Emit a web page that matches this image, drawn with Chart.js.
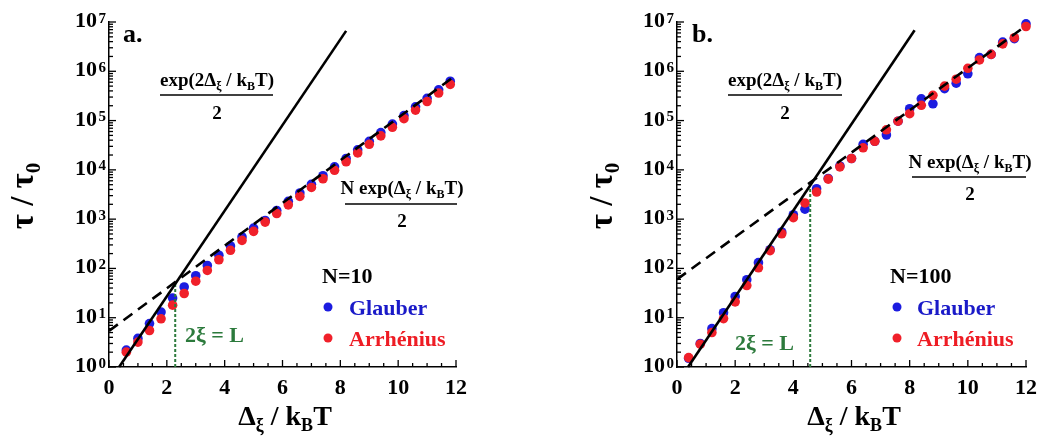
<!DOCTYPE html>
<html><head><meta charset="utf-8">
<script src="https://cdn.jsdelivr.net/npm/chart.js@4.4.1/dist/chart.umd.min.js"></script>
<style>
html,body{margin:0;padding:0;background:#fff;}
#wrap{position:relative;width:1039px;height:443px;overflow:hidden;background:#fff}
canvas{position:absolute;top:0}
</style></head>
<body>
<div id="wrap">
<canvas id="ca" width="520" height="443" style="left:0"></canvas>
<canvas id="cb" width="519" height="443" style="left:520px"></canvas>
</div>
<script>
// ---------- data ----------
const xA = [0.6,1.0,1.4,1.8,2.2,2.6,3.0,3.4,3.8,4.2,4.6,5.0,5.4,5.8,6.2,6.6,7.0,7.4,7.8,8.2,8.6,9.0,9.4,9.8,10.2,10.6,11.0,11.4,11.8];
const glauberA = [2.2,3.8,7.6,13,25,42,71,115,185,285,435,660,940,1500,2300,3400,5100,7600,11500,17000,25500,38000,57000,85000,126000,190000,282000,420000,630000];
const arrheniusA = [2.0,3.2,5.5,9.5,18,31,55,91,150,233,370,565,870,1300,1950,2900,4400,6600,9800,14600,22000,33000,49000,73000,109000,163000,243000,362000,540000];

const xB = [0.4,0.8,1.2,1.6,2.0,2.4,2.8,3.2,3.6,4.0,4.4,4.8,5.2,5.6,6.0,6.4,6.8,7.2,7.6,8.0,8.4,8.8,9.2,9.6,10.0,10.4,10.8,11.2,11.6,12.0];
const glauberB = [1.5,3.0,6.0,12.6,27,59,131,240,550,1230,1590,4150,6700,12000,17000,33000,38000,51000,97000,174000,276000,219000,445000,575000,890000,1.9e6,2.2e6,3.9e6,4.6e6,9.2e6];
const arrheniusB = [1.55,2.9,5.0,9.6,21,45,103,230,505,1070,2130,3550,6500,11500,17000,28000,38000,65000,97000,138000,204000,325000,500000,690000,1.15e6,1.7e6,2.2e6,3.6e6,4.8e6,8.1e6];

// theory lines (end points)
const solidAx = [0.35, 8.2],  solidAy = [1, 6.6e6];
const dashAx  = [0, 11.85],   dashAy  = [5.4, 7.2e5];
const solidBx = [0.38, 8.17], solidBy = [1, 6.8e6];
const dashBx  = [0, 11.9],    dashBy  = [60, 7.6e6];
// 2xi = L markers
const lenAx = [2.29, 2.29], lenAy = [1, 50];
const lenBx = [4.58, 4.58], lenBy = [1, 4500];

// ticks
const xTickValues = [0,2,4,6,8,10,12];
const xTickLabels = ['0','2','4','6','8','10','12'];
const yTickExps = [0,1,2,3,4,5,6,7];

// ---------- helpers ----------
const FONT = '"Liberation Serif","Times New Roman",serif';
const fnt = s => 'bold ' + s + 'px ' + FONT;
const BLUE = '#1c1ce0', RED = '#f0202a', GREEN = '#2c7a3c';

function pts(xs, ys){ return xs.map((x,i)=>({x:x, y:ys[i]})); }

function rich(ctx, parts, x, y, align){
  let w = 0;
  parts.forEach(p => { ctx.font = fnt(p[1]); p.w = ctx.measureText(p[0]).width; w += p.w; });
  let cx = align === 'center' ? x - w/2 : (align === 'right' ? x - w : x);
  ctx.textAlign = 'left'; ctx.textBaseline = 'alphabetic';
  parts.forEach(p => { ctx.font = fnt(p[1]); ctx.fillText(p[0], cx, y + (p[2]||0)); cx += p.w; });
  return w;
}

const annotPlugin = {
  id: 'annot',
  afterDraw(chart, args, o){
    const ctx = chart.ctx, xs = chart.scales.x, ys = chart.scales.y, ca = chart.chartArea;
    ctx.save();
    // inward ticks
    ctx.strokeStyle = '#000'; ctx.lineWidth = 1.3;
    for (let k = 0; k <= 24; k++){
      const v = k * 0.5, px = xs.getPixelForValue(v);
      const len = (k % 4 === 0) ? 7 : 4;
      ctx.beginPath(); ctx.moveTo(px, ca.bottom); ctx.lineTo(px, ca.bottom - len); ctx.stroke();
    }
    for (let n = 0; n <= 7; n++){
      for (let m = 1; m <= 9; m++){
        if (n === 7 && m > 1) break;
        const py = ys.getPixelForValue(m * Math.pow(10, n));
        const len = (m === 1) ? 7 : 4;
        ctx.beginPath(); ctx.moveTo(ca.left, py); ctx.lineTo(ca.left + len, py); ctx.stroke();
      }
    }
    // tick labels
    ctx.fillStyle = '#000';
    ctx.font = fnt(22); ctx.textAlign = 'center'; ctx.textBaseline = 'alphabetic';
    xTickLabels.forEach((lab, i) => ctx.fillText(lab, xs.getPixelForValue(xTickValues[i]), ca.bottom + 27));
    yTickExps.forEach(e => {
      const py = ys.getPixelForValue(Math.pow(10, e));
      ctx.textAlign = 'right';
      ctx.font = fnt(15);
      const ew = ctx.measureText(String(e)).width;
      ctx.fillText(String(e), ca.left - 3, py + 0.5);
      ctx.font = fnt(22);
      ctx.fillText('10', ca.left - 4.5 - ew, py + 5);
    });
    // axis titles
    rich(ctx, [['Δ',28],['ξ',18,6],[' / k',28],['B',18,6],['T',28]], o.xTitleX, 425, 'center');
    ctx.save();
    ctx.translate(o.yTitleX, 196);
    ctx.rotate(-Math.PI/2);
    rich(ctx, [['τ / τ',33],['0',21,7]], 0, 0, 'center');
    ctx.restore();
    // panel letter
    ctx.fillStyle = '#000';
    rich(ctx, [[o.letter, 26]], o.letterX, 42, 'left');
    // fraction 1
    rich(ctx, [['exp(2Δ',19],['ξ',12,4],[' / k',19],['B',12,4],['T)',19]], o.expCx, 86, 'center');
    ctx.lineWidth = 1.6;
    ctx.beginPath(); ctx.moveTo(o.expBarX[0], 95); ctx.lineTo(o.expBarX[1], 95); ctx.stroke();
    rich(ctx, [['2',19]], o.expCx, 119, 'center');
    // fraction 2
    rich(ctx, [['N exp(Δ',19],['ξ',12,4],[' / k',19],['B',12,4],['T)',19]], o.nexpCx, o.nexpY + 6, 'center');
    ctx.beginPath(); ctx.moveTo(o.nexpBarX[0], o.nexpBar); ctx.lineTo(o.nexpBarX[1], o.nexpBar); ctx.stroke();
    rich(ctx, [['2',19]], o.nexpCx, o.nexp2Y + 7, 'center');
    // legend block
    rich(ctx, [[o.nLabel, 22]], o.nX, 283, 'left');
    ctx.fillStyle = BLUE;
    ctx.beginPath(); ctx.arc(o.legDotX, 307, 4.5, 0, Math.PI*2); ctx.fill();
    ctx.fillStyle = '#1a1ac8';
    rich(ctx, [['Glauber', 22]], o.legTextX, 315, 'left');
    ctx.fillStyle = RED;
    ctx.beginPath(); ctx.arc(o.legDotX, 338, 4.5, 0, Math.PI*2); ctx.fill();
    ctx.fillStyle = '#ee1c24';
    rich(ctx, [['Arrhénius', 22]], o.legTextX, 346, 'left');
    // 2xi = L
    ctx.fillStyle = GREEN;
    rich(ctx, [['2ξ = L', 22]], o.lenX, o.lenY + 7, 'left');
    ctx.restore();
  }
};

function makeChart(id, cfg){
  const datasets = [
    {data: pts(cfg.sx, cfg.sy), showLine: true, borderColor: '#000', borderWidth: 2.6, pointRadius: 0, clip: false},
    {data: pts(cfg.dx, cfg.dy), showLine: true, borderColor: '#000', borderWidth: 2.6, borderDash: [11,7], pointRadius: 0, clip: false},
    {data: pts(cfg.lx, cfg.ly), showLine: true, borderColor: GREEN, borderWidth: 2, borderDash: [3,2], pointRadius: 0, clip: false},
    {data: pts(cfg.x, cfg.red), showLine: false, pointRadius: 4.8, pointBackgroundColor: RED, pointBorderWidth: 0, backgroundColor: RED, borderColor: RED, clip: false},
    {data: pts(cfg.x, cfg.blue), showLine: false, pointRadius: 4.8, pointBackgroundColor: BLUE, pointBorderWidth: 0, backgroundColor: BLUE, borderColor: BLUE, clip: false}
  ];
  return new Chart(document.getElementById(id), {
    type: 'scatter',
    data: {datasets},
    plugins: [annotPlugin],
    options: {
      responsive: false, animation: false, events: [],
      layout: {padding: {left: 0, top: 22, right: cfg.padRight, bottom: 0}},
      plugins: {legend: {display: false}, tooltip: {enabled: false}, annot: cfg.annot},
      scales: {
        x: {type: 'linear', min: 0, max: 12,
            grid: {display: false, drawTicks: false},
            border: {display: true, color: '#000', width: 1.5},
            ticks: {display: false},
            afterFit: s => { s.height = 76; }},
        y: {type: 'logarithmic', min: 1, max: 1e7,
            grid: {display: false, drawTicks: false},
            border: {display: true, color: '#000', width: 1.5},
            ticks: {display: false},
            afterFit: s => { s.width = cfg.yWidth; }}
      }
    }
  });
}

makeChart('ca', {
  x: xA, blue: glauberA, red: arrheniusA,
  sx: solidAx, sy: solidAy, dx: dashAx, dy: dashAy, lx: lenAx, ly: lenAy,
  yWidth: 109, padRight: 64,
  annot: {letter: 'a.', letterX: 123, expCx: 217, expBarX: [160, 273],
          nexpCx: 402, nexpY: 188, nexpBar: 204, nexpBarX: [345, 457], nexp2Y: 220,
          nLabel: 'N=10', nX: 322, legDotX: 328, legTextX: 349,
          lenX: 185, lenY: 335, yTitleX: 33, xTitleX: 285}
});
makeChart('cb', {
  x: xB, blue: glauberB, red: arrheniusB,
  sx: solidBx, sy: solidBy, dx: dashBx, dy: dashBy, lx: lenBx, ly: lenBy,
  yWidth: 157, padRight: 13,
  annot: {letter: 'b.', letterX: 172, expCx: 265, expBarX: [208, 322],
          nexpCx: 450, nexpY: 162, nexpBar: 177, nexpBarX: [392, 506], nexp2Y: 193,
          nLabel: 'N=100', nX: 370, legDotX: 377, legTextX: 397,
          lenX: 215, lenY: 343, yTitleX: 92, xTitleX: 334}
});
</script>
</body></html>
